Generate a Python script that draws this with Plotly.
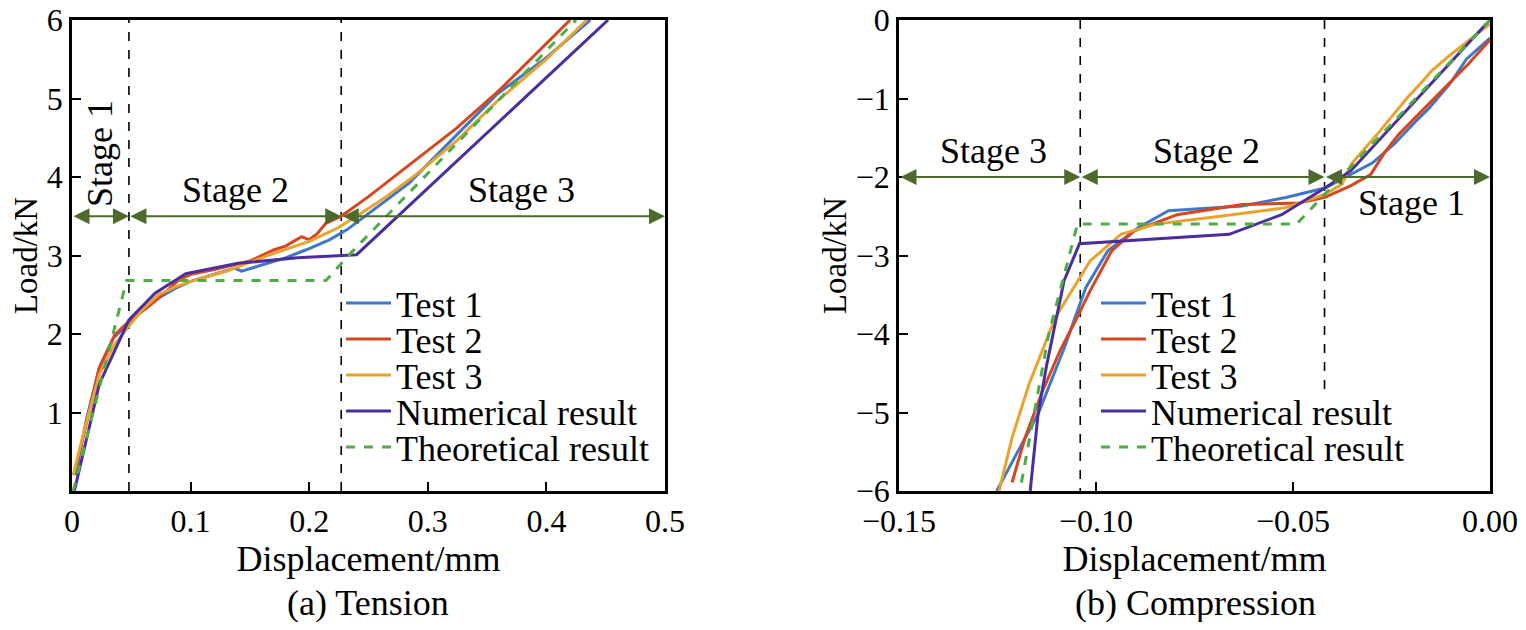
import plotly.graph_objects as go

# ---- tension data (a) ----
t1_x = [0.003, 0.012, 0.023, 0.035, 0.048, 0.06, 0.073, 0.087, 0.1, 0.12, 0.137, 0.143, 0.16, 0.18, 0.197, 0.217, 0.232, 0.247, 0.284, 0.32, 0.358, 0.40, 0.437]
t1_y = [0.2, 0.9, 1.57, 1.95, 2.14, 2.33, 2.46, 2.58, 2.67, 2.76, 2.84, 2.80, 2.88, 2.97, 3.07, 3.2, 3.33, 3.5, 3.92, 4.47, 5.05, 5.52, 6.0]
t2_x = [0.003, 0.012, 0.023, 0.036, 0.048, 0.066, 0.08, 0.09, 0.1, 0.12, 0.15, 0.16, 0.17, 0.18, 0.1936, 0.2, 0.207, 0.214, 0.227, 0.25, 0.274, 0.3, 0.324, 0.36, 0.39, 0.42]
t2_y = [0.3, 0.85, 1.57, 1.99, 2.16, 2.37, 2.55, 2.69, 2.76, 2.82, 2.93, 3.0, 3.07, 3.12, 3.24, 3.2, 3.28, 3.41, 3.5, 3.75, 4.03, 4.33, 4.62, 5.1, 5.55, 6.0]
t3_x = [0.001, 0.01, 0.023, 0.035, 0.048, 0.06, 0.073, 0.087, 0.1, 0.13, 0.167, 0.2, 0.224, 0.24, 0.265, 0.29, 0.325, 0.358, 0.40, 0.434]
t3_y = [0.2, 0.75, 1.48, 1.85, 2.1, 2.32, 2.5, 2.6, 2.67, 2.8, 3.01, 3.18, 3.35, 3.5, 3.75, 4.03, 4.47, 4.96, 5.5, 6.0]
tn_x = [0.002, 0.023, 0.048, 0.07, 0.096, 0.14, 0.19, 0.24, 0.452]
tn_y = [0.0, 1.36, 2.18, 2.52, 2.77, 2.9, 2.97, 3.01, 6.0]
tt_x = [0.001, 0.046, 0.214, 0.235, 0.425]
tt_y = [0.0, 2.68, 2.68, 3.03, 6.0]
t_bounds = [0.048, 0.227]
t_arrow_y = 3.5

# ---- compression data (b) ----
c1_x = [0.0, -0.006, -0.01, -0.0154, -0.019, -0.0243, -0.0298, -0.0419, -0.0518, -0.0629, -0.0816, -0.0894, -0.097, -0.1026, -0.108, -0.1147, -0.1202, -0.1252]
c1_y = [-0.23, -0.5, -0.8, -1.12, -1.3, -1.58, -1.82, -2.14, -2.26, -2.37, -2.43, -2.65, -2.94, -3.41, -4.17, -5.02, -5.53, -6.0]
c2_x = [0.0, -0.0055, -0.0132, -0.0232, -0.0265, -0.0287, -0.0303, -0.0353, -0.0419, -0.0485, -0.0629, -0.0794, -0.0904, -0.096, -0.1015, -0.1048, -0.1092, -0.1136, -0.118, -0.1213]
c2_y = [-0.25, -0.56, -0.95, -1.46, -1.67, -1.84, -1.97, -2.11, -2.26, -2.33, -2.35, -2.48, -2.69, -2.94, -3.45, -3.79, -4.22, -4.73, -5.32, -5.89]
c3_x = [0.0, -0.01, -0.0149, -0.0171, -0.021, -0.0287, -0.0353, -0.0375, -0.0419, -0.0518, -0.0684, -0.0849, -0.0937, -0.1015, -0.1103, -0.117, -0.1213, -0.1246]
c3_y = [-0.05, -0.44, -0.65, -0.78, -0.99, -1.46, -1.84, -2.09, -2.22, -2.39, -2.50, -2.60, -2.73, -3.07, -3.79, -4.64, -5.32, -6.0]
cn_x = [-0.001, -0.0353, -0.0419, -0.0529, -0.0662, -0.1042, -0.1081, -0.1125, -0.1147, -0.1167]
cn_y = [-0.05, -1.92, -2.14, -2.48, -2.73, -2.85, -3.32, -4.39, -5.02, -6.0]
ct_x = [0.0, -0.0491, -0.1047, -0.112, -0.1191]
ct_y = [0.0, -2.6, -2.6, -4.0, -5.94]
c_bounds = [-0.104, -0.042]
c_bound_bottom = [-6.0, -4.72]
c_arrow_y = -2.0

names = ["Test 1", "Test 2", "Test 3", "Numerical result", "Theoretical result"]
colors = ["#3f78c8", "#d8461f", "#eba22d", "#4a2ea0", "#4cae44"]
dashes = ["solid", "solid", "solid", "solid", "dash"]

FONT = "Liberation Serif"
ARROW = "#4b6a2c"
# the page body has an 8px margin, so the figure is a bit smaller than the window
OFF = 8
W, H = 1526 - 2 * OFF, 630 - 2 * OFF


def px(x):  # window pixel -> paper x
    return (x - OFF) / W


def py(y):  # window pixel -> paper y
    return 1 - (y - OFF) / H


fig = go.Figure()

tension = [(t1_x, t1_y), (t2_x, t2_y), (t3_x, t3_y), (tn_x, tn_y), (tt_x, tt_y)]
compression = [(c1_x, c1_y), (c2_x, c2_y), (c3_x, c3_y), (cn_x, cn_y), (ct_x, ct_y)]

# stage boundaries (dashed black)
for b in t_bounds:
    fig.add_trace(go.Scatter(x=[b, b], y=[0, 6], mode="lines", showlegend=False,
                             line=dict(color="black", width=1.6, dash="dash"), xaxis="x", yaxis="y"))
for b, bot in zip(c_bounds, c_bound_bottom):
    fig.add_trace(go.Scatter(x=[b, b], y=[0, bot], mode="lines", showlegend=False,
                             line=dict(color="black", width=1.6, dash="dash"), xaxis="x2", yaxis="y2"))

# one legend per entry so the row spacing can follow the original
legends = {}
leg_font = dict(family=FONT, size=36, color="black")
row_y = [303, 339, 375, 411, 447]
for i, ((x, y), n, c, d) in enumerate(zip(tension, names, colors, dashes)):
    key = "legend" if i == 0 else f"legend{i + 1}"
    fig.add_trace(go.Scatter(x=x, y=y, mode="lines", name=n, legend=key,
                             line=dict(color=c, width=3, dash=d), xaxis="x", yaxis="y"))
    legends[key] = dict(x=px(341), y=py(row_y[i]), xanchor="left", yanchor="middle",
                        bgcolor="rgba(0,0,0,0)", font=leg_font, borderwidth=0, itemwidth=45)
for i, ((x, y), n, c, d) in enumerate(zip(compression, names, colors, dashes)):
    key = f"legend{i + 6}"
    fig.add_trace(go.Scatter(x=x, y=y, mode="lines", name=n, legend=key,
                             line=dict(color=c, width=3, dash=d), xaxis="x2", yaxis="y2"))
    legends[key] = dict(x=px(1096), y=py(row_y[i]), xanchor="left", yanchor="middle",
                        bgcolor="rgba(0,0,0,0)", font=leg_font, borderwidth=0, itemwidth=45)

ann = []
# stage arrows
t_edges = [0.0] + t_bounds + [0.5]
for a, b in zip(t_edges[:-1], t_edges[1:]):
    ann.append(dict(x=b, y=t_arrow_y, ax=a, ay=t_arrow_y, xref="x", yref="y", axref="x", ayref="y",
                    showarrow=True, arrowside="end+start", arrowhead=2, arrowsize=1.6,
                    arrowwidth=2, arrowcolor=ARROW, text=""))
c_edges = [-0.15] + c_bounds + [0.0]
for a, b in zip(c_edges[:-1], c_edges[1:]):
    ann.append(dict(x=b, y=c_arrow_y, ax=a, ay=c_arrow_y, xref="x2", yref="y2", axref="x2", ayref="y2",
                    showarrow=True, arrowside="end+start", arrowhead=2, arrowsize=1.6,
                    arrowwidth=2, arrowcolor=ARROW, text=""))

tf = dict(family=FONT, size=36, color="black")
mid = dict(showarrow=False, font=tf, xanchor="center", yanchor="middle")
ann += [
    dict(mid, x=0.024, y=4.3, xref="x", yref="y", text="Stage 1", textangle=-90),
    dict(mid, x=0.138, y=3.84, xref="x", yref="y", text="Stage 2"),
    dict(mid, x=0.379, y=3.84, xref="x", yref="y", text="Stage 3"),
    dict(mid, x=-0.126, y=-1.67, xref="x2", yref="y2", text="Stage 3"),
    dict(mid, x=-0.072, y=-1.67, xref="x2", yref="y2", text="Stage 2"),
    dict(mid, x=-0.02, y=-2.33, xref="x2", yref="y2", text="Stage 1"),
    dict(mid, x=px(368), y=py(603), xref="paper", yref="paper", text="(a) Tension"),
    dict(mid, x=px(1195), y=py(603), xref="paper", yref="paper", text="(b) Compression"),
]

axis_common = dict(showline=True, linecolor="black", linewidth=2.5, mirror=True, ticks="inside",
                   ticklen=9, tickwidth=2, tickcolor="black", showgrid=False, zeroline=False,
                   automargin=False, ticklabeloverflow="allow",
                   tickfont=dict(family=FONT, size=32, color="black"))
x_title = dict(text="Displacement/mm", font=dict(family=FONT, size=36, color="black"), standoff=0)
y_title = dict(text="Load/kN", font=dict(family=FONT, size=33, color="black"), standoff=0)
y_dom = [py(491), py(20)]

fig.update_layout(
    width=W, height=H, margin=dict(l=0, r=0, t=0, b=0),
    plot_bgcolor="white", paper_bgcolor="white",
    xaxis=dict(axis_common, domain=[px(72), px(665)], range=[0, 0.5],
               tickvals=[0, 0.1, 0.2, 0.3, 0.4, 0.5], ticktext=["0", "0.1", "0.2", "0.3", "0.4", "0.5"],
               title=x_title, anchor="y"),
    yaxis=dict(axis_common, domain=y_dom, range=[0, 6],
               tickvals=[1, 2, 3, 4, 5, 6], ticktext=["1", "2", "3", "4", "5", "6"],
               title=y_title, anchor="x"),
    xaxis2=dict(axis_common, domain=[px(899), px(1490)], range=[-0.15, 0],
                tickvals=[-0.15, -0.10, -0.05, 0], ticktext=["\u22120.15", "\u22120.10", "\u22120.05", "0.00"],
                title=x_title, anchor="y2"),
    yaxis2=dict(axis_common, domain=y_dom, range=[-6, 0],
                tickvals=[0, -1, -2, -3, -4, -5, -6],
                ticktext=["0", "\u22121", "\u22122", "\u22123", "\u22124", "\u22125", "\u22126"],
                title=y_title, anchor="x2"),
    annotations=ann,
    **legends,
)

fig.write_html("out.html")
